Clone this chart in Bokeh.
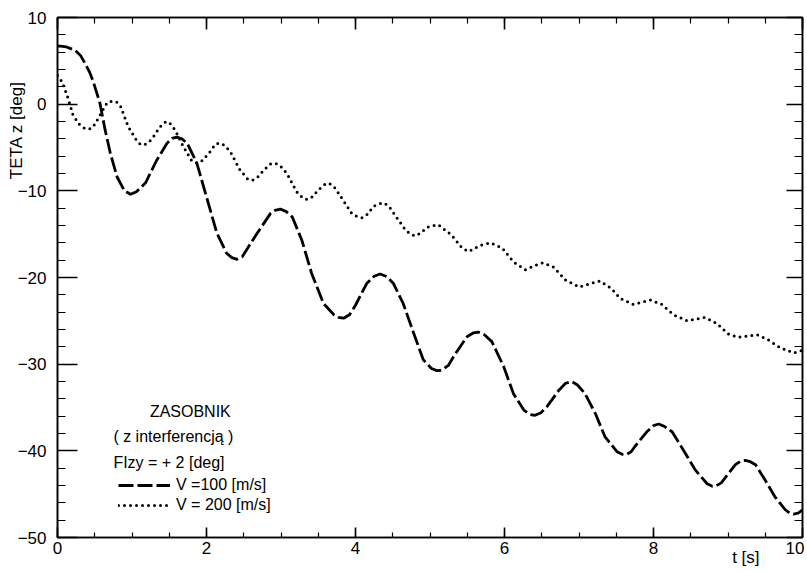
from bokeh.plotting import figure
from bokeh.models import (LinearAxis, Range1d, FixedTicker, Label, Legend, LegendItem,
                          CustomJSTickFormatter)
from bokeh.embed import file_html
from bokeh.resources import INLINE

# V = 100 m/s (dashed)
t_v100 = [0.0, 0.04, 0.12, 0.24, 0.31, 0.37, 0.43, 0.48, 0.57, 0.64, 0.71, 0.80, 0.90, 0.98,
          1.06, 1.18, 1.33, 1.47, 1.54, 1.60, 1.67, 1.74, 1.87, 2.00, 2.14, 2.27, 2.34, 2.41,
          2.48, 2.56, 2.68, 2.86, 2.92, 2.99, 3.07, 3.15, 3.28, 3.41, 3.57, 3.71, 3.77, 3.84,
          3.92, 4.00, 4.15, 4.25, 4.33, 4.42, 4.51, 4.64, 4.78, 4.91, 5.02, 5.09, 5.16, 5.25,
          5.34, 5.50, 5.58, 5.65, 5.73, 5.83, 5.99, 6.12, 6.26, 6.34, 6.41, 6.49, 6.57, 6.73,
          6.82, 6.90, 6.98, 7.08, 7.22, 7.35, 7.51, 7.58, 7.64, 7.70, 7.75, 7.91, 8.00, 8.07,
          8.15, 8.25, 8.40, 8.56, 8.72, 8.79, 8.83, 8.91, 8.99, 9.10, 9.17, 9.23, 9.30, 9.37,
          9.50, 9.63, 9.77, 9.83, 9.88, 9.94, 10.0]
v_v100 = [6.7, 6.7, 6.6, 6.2, 5.6, 4.7, 3.7, 2.6, 0.1, -3.0, -5.7, -8.4, -10.0, -10.4,
          -10.1, -9.1, -6.5, -4.5, -3.95, -3.8, -4.0, -4.5, -6.8, -10.7, -14.9, -17.2, -17.7,
          -17.9, -17.6, -16.5, -14.9, -12.6, -12.25, -12.1, -12.4, -13.0, -15.7, -19.5, -23.0,
          -24.3, -24.6, -24.7, -24.3, -23.2, -20.7, -19.85, -19.6, -19.9, -20.7, -23.0, -26.4,
          -29.5, -30.5, -30.75, -30.7, -30.1, -28.8, -26.8, -26.4, -26.3, -26.6, -27.4, -30.3,
          -33.4, -35.3, -35.8, -35.9, -35.6, -34.9, -33.0, -32.2, -32.0, -32.4, -33.4, -35.7,
          -38.4, -40.1, -40.4, -40.4, -40.1, -39.5, -37.8, -37.1, -36.9, -37.2, -37.8, -39.9,
          -42.2, -43.8, -44.1, -44.1, -43.7, -42.8, -41.6, -41.2, -41.1, -41.25, -41.6, -43.4,
          -45.3, -46.8, -47.2, -47.3, -47.2, -46.8]

# V = 200 m/s (dotted)
t_v200 = [0.0, 0.06, 0.13, 0.21, 0.30, 0.36, 0.42, 0.47, 0.51, 0.62, 0.67, 0.73, 0.79, 0.84,
          0.95, 1.07, 1.11, 1.15, 1.20, 1.27, 1.36, 1.42, 1.47, 1.52, 1.58, 1.69, 1.80, 1.86,
          1.92, 2.03, 2.12, 2.18, 2.25, 2.32, 2.45, 2.55, 2.61, 2.68, 2.77, 2.86, 2.92, 2.99,
          3.08, 3.21, 3.29, 3.35, 3.42, 3.50, 3.58, 3.64, 3.71, 3.79, 3.95, 4.03, 4.09, 4.16,
          4.24, 4.31, 4.38, 4.45, 4.53, 4.67, 4.74, 4.80, 4.87, 4.96, 5.11, 5.29, 5.43, 5.52,
          5.67, 5.81, 5.97, 6.12, 6.28, 6.41, 6.52, 6.66, 6.82, 7.00, 7.15, 7.28, 7.44, 7.55,
          7.73, 7.96, 8.11, 8.27, 8.45, 8.69, 8.85, 9.00, 9.14, 9.39, 9.54, 9.70, 9.88, 10.0]
v_v200 = [3.3, 2.6, 1.0, -1.3, -2.4, -2.75, -2.9, -2.7, -2.2, -0.5, 0.2, 0.35, 0.25, -0.1,
          -2.6, -4.3, -4.6, -4.7, -4.55, -4.0, -2.8, -2.2, -2.0, -2.3, -3.0, -4.9, -6.5, -6.75,
          -6.7, -5.7, -4.6, -4.5, -4.8, -5.5, -7.6, -8.6, -8.8, -8.5, -7.6, -6.9, -6.8, -7.1,
          -8.0, -10.1, -10.8, -11.0, -10.7, -9.9, -9.3, -9.1, -9.5, -10.5, -12.6, -13.0, -13.1,
          -12.7, -11.8, -11.5, -11.4, -11.8, -12.8, -14.5, -15.0, -15.2, -14.9, -14.2, -13.9,
          -15.1, -16.6, -17.0, -16.3, -16.0, -16.6, -18.2, -19.1, -18.6, -18.3, -18.8, -20.3,
          -21.1, -20.7, -20.4, -21.3, -22.4, -23.1, -22.6, -23.1, -24.3, -25.0, -24.6, -25.3,
          -26.5, -26.9, -26.6, -27.2, -28.1, -28.7, -28.4]

x_ticks = [0, 2, 4, 6, 8, 10]
y_ticks = [10, 0, -10, -20, -30, -40, -50]
x_minor = [i * 0.5 for i in range(21)]
y_minor = [10 - 2 * i for i in range(31)]

x_title = "t [s]"
y_title = "TETA z [deg]"
legend_header = ["ZASOBNIK", "( z interferencją )", "FIzy = + 2 [deg]"]
series_names = ["V =100 [m/s]", "V = 200 [m/s]"]

FONT = "Liberation Sans"

p = figure(frame_width=745, frame_height=520, output_backend="svg", toolbar_location=None,
           x_range=Range1d(0, 10), y_range=Range1d(-50, 10),
           min_border_left=57, min_border_top=17, min_border_right=2, min_border_bottom=4,
           x_axis_location=None, y_axis_location=None)
p.xgrid.visible = False
p.ygrid.visible = False
p.outline_line_color = "black"
p.outline_line_width = 1.5
p.background_fill_color = "white"
p.border_fill_color = "white"


def fixed_text(s):
    return CustomJSTickFormatter(code="return %r" % s)


def style(ax, major_in, minor_in, labels=True):
    ax.major_tick_in = major_in
    ax.major_tick_out = 0
    ax.minor_tick_in = minor_in
    ax.minor_tick_out = 0
    ax.axis_line_width = 1.6
    ax.major_tick_line_width = 1.6
    ax.minor_tick_line_width = 1.2
    ax.axis_line_color = "black"
    ax.major_tick_line_color = "black"
    ax.minor_tick_line_color = "black"
    ax.major_label_text_font = FONT
    ax.major_label_text_font_size = "17px"
    ax.major_label_text_color = "black"
    if not labels:
        ax.formatter = fixed_text("")
        ax.major_label_text_font_size = "0px"
        ax.major_label_standoff = 0


def text_axis(ticks, text, standoff, orientation="horizontal"):
    ax = LinearAxis(ticker=FixedTicker(ticks=ticks, minor_ticks=[]), formatter=fixed_text(text))
    ax.axis_line_color = None
    ax.major_tick_line_color = None
    ax.minor_tick_line_color = None
    ax.major_tick_in = 0
    ax.major_tick_out = 0
    ax.minor_tick_in = 0
    ax.minor_tick_out = 0
    ax.major_label_standoff = standoff
    ax.major_label_orientation = orientation
    ax.major_label_text_font = FONT
    ax.major_label_text_font_size = "17px"
    ax.major_label_text_color = "black"
    return ax


xb = LinearAxis(ticker=FixedTicker(ticks=x_ticks, minor_ticks=x_minor))
style(xb, 10, 5)
xb.major_label_standoff = 4
p.add_layout(xb, "below")
p.add_layout(text_axis([9.24], x_title, -9), "below")

xt = LinearAxis(ticker=FixedTicker(ticks=x_ticks, minor_ticks=x_minor))
style(xt, 12, 6, labels=False)
p.add_layout(xt, "above")

yl = LinearAxis(ticker=FixedTicker(ticks=y_ticks, minor_ticks=y_minor))
style(yl, 20, 8)
yl.major_label_standoff = 11
p.add_layout(yl, "left")
p.add_layout(text_axis([-3.0], y_title, -12, "vertical"), "left")

yr = LinearAxis(ticker=FixedTicker(ticks=y_ticks, minor_ticks=y_minor))
style(yr, 16, 8, labels=False)
p.add_layout(yr, "right")

r1 = p.line(t_v100, v_v100, line_color="black", line_width=2.8, line_dash="15 4")
r2 = p.line(t_v200, v_v200, line_color="black", line_width=3.0, line_dash="0 6",
            line_cap="round")

legend = Legend(items=[LegendItem(label=series_names[0], renderers=[r1]),
                       LegendItem(label=series_names[1], renderers=[r2])],
                location=(61, 22), padding=0, margin=0, spacing=0,
                glyph_width=52, glyph_height=20, label_height=20, label_standoff=6,
                label_text_font=FONT, label_text_font_size="16px", label_text_color="black",
                background_fill_alpha=0, border_line_color=None)
p.add_layout(legend, "center")

for txt, x, y in zip(legend_header, [1.24, 0.75, 0.75], [-35.5, -38.4, -41.4]):
    p.add_layout(Label(x=x, y=y, text=txt, text_font=FONT, text_font_size="16px",
                       text_baseline="middle", text_align="left", text_color="black"))

open("out.html", "w").write(file_html(p, INLINE))
